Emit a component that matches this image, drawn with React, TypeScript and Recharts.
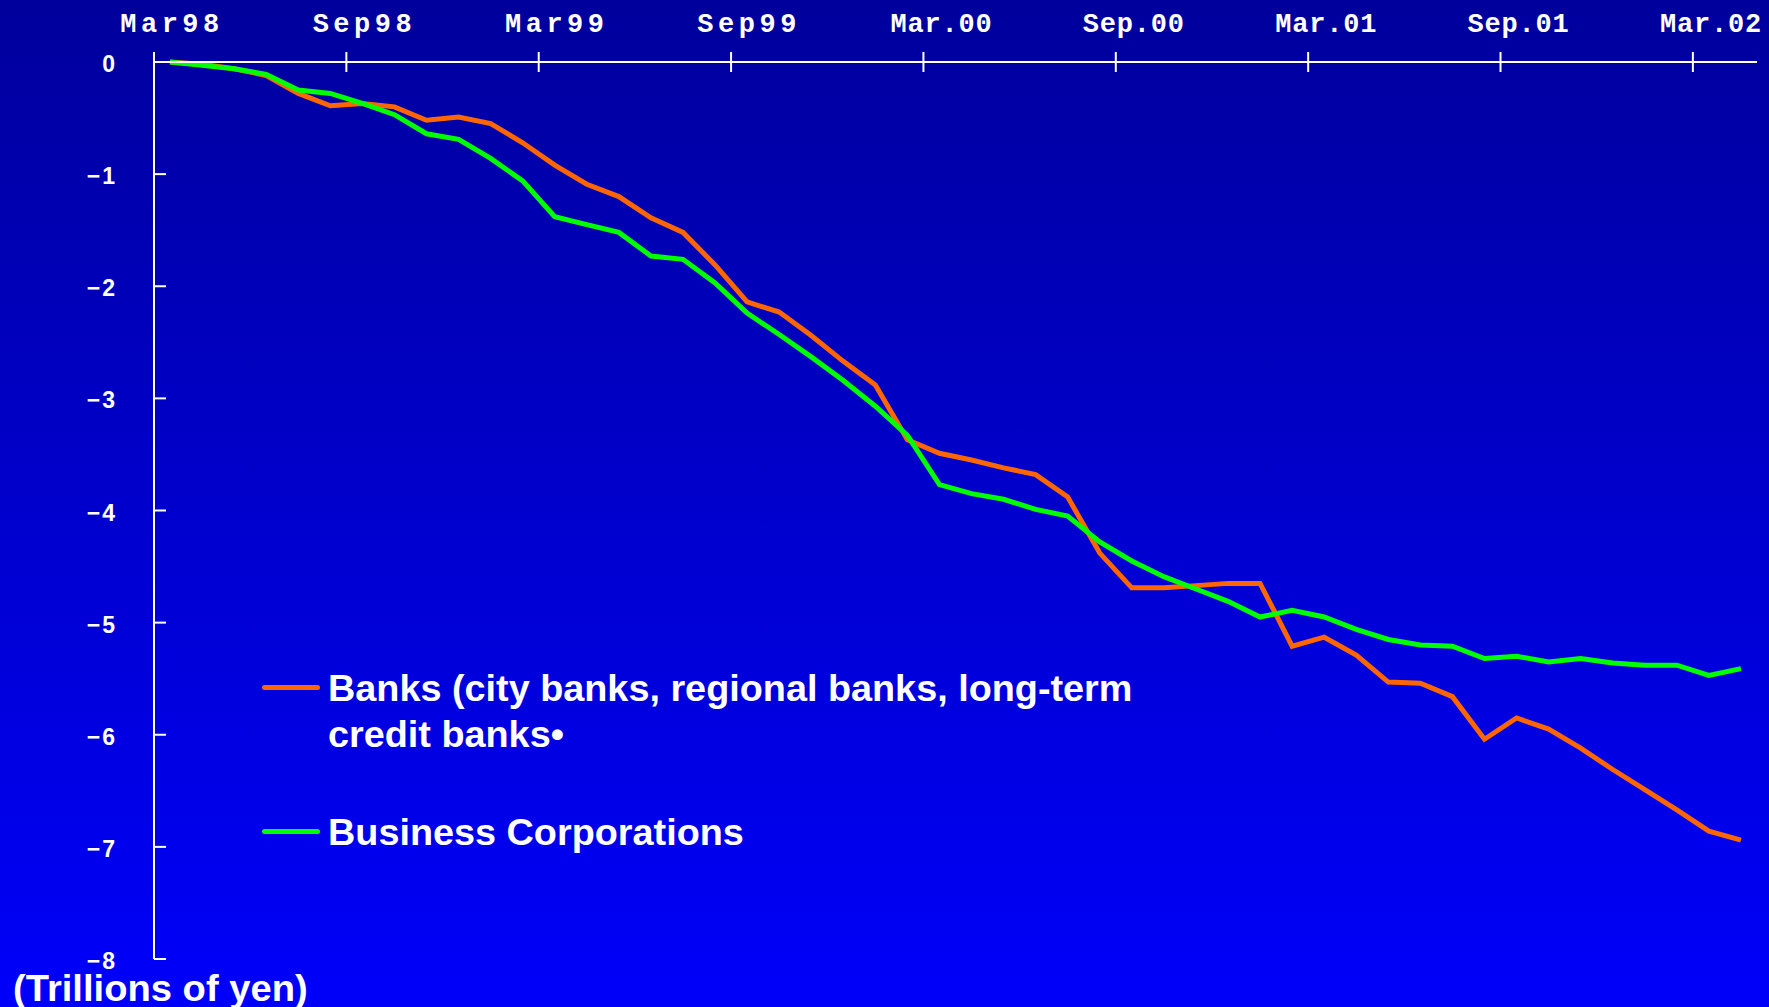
import { LineChart, Line, XAxis, YAxis } from 'recharts'

const W = 1769
const H = 1007
const PLOT_LEFT = 154
const PLOT_TOP = 62
const PLOT_RIGHT = 12
const PLOT_BOTTOM = 48

// monthly categories, Mar 1998 .. Apr 2002
const months = [
  'Mar98', 'Apr98', 'May98', 'Jun98', 'Jul98', 'Aug98', 'Sep98', 'Oct98', 'Nov98', 'Dec98',
  'Jan99', 'Feb99', 'Mar99', 'Apr99', 'May99', 'Jun99', 'Jul99', 'Aug99', 'Sep99', 'Oct99', 'Nov99', 'Dec99',
  'Jan.00', 'Feb.00', 'Mar.00', 'Apr.00', 'May.00', 'Jun.00', 'Jul.00', 'Aug.00', 'Sep.00', 'Oct.00', 'Nov.00', 'Dec.00',
  'Jan.01', 'Feb.01', 'Mar.01', 'Apr.01', 'May.01', 'Jun.01', 'Jul.01', 'Aug.01', 'Sep.01', 'Oct.01', 'Nov.01', 'Dec.01',
  'Jan.02', 'Feb.02', 'Mar.02', 'Apr.02',
]

const banks = [
  0, -0.02, -0.06, -0.12, -0.28, -0.39, -0.37, -0.4, -0.52, -0.49,
  -0.55, -0.72, -0.92, -1.09, -1.2, -1.39, -1.52, -1.81, -2.14, -2.23,
  -2.44, -2.67, -2.88, -3.37, -3.49, -3.55, -3.62, -3.68, -3.88, -4.38,
  -4.69, -4.69, -4.67, -4.65, -4.65, -5.21, -5.13, -5.29, -5.53, -5.54,
  -5.66, -6.04, -5.85, -5.95, -6.12, -6.31, -6.49, -6.67, -6.86, -6.94,
]

const corporations = [
  0, -0.03, -0.06, -0.11, -0.25, -0.28, -0.37, -0.47, -0.64, -0.69,
  -0.86, -1.06, -1.38, -1.45, -1.52, -1.73, -1.76, -1.97, -2.24, -2.43,
  -2.63, -2.84, -3.07, -3.33, -3.77, -3.85, -3.9, -3.99, -4.05, -4.28,
  -4.45, -4.59, -4.7, -4.81, -4.95, -4.89, -4.95, -5.06, -5.15, -5.2,
  -5.21, -5.32, -5.3, -5.35, -5.32, -5.36, -5.38, -5.38, -5.47, -5.41,
]

const yTicks = [0, -1, -2, -3, -4, -5, -6, -7, -8]

const series = [
  { key: 'banks', color: '#ff6600', lines: ['Banks (city banks, regional banks, long-term', 'credit banks\u2022'] },
  { key: 'corporations', color: '#00ff00', lines: ['Business Corporations'] },
]

const data = months.map((month, i) => ({
  month,
  banks: banks[i],
  corporations: corporations[i],
}))

const BAND = (W - PLOT_LEFT - PLOT_RIGHT) / months.length

function MonthTick({ x, payload }: any) {
  // label sits on the category, tick mark on the boundary before it
  const edge = x - BAND / 2
  const label = String(payload.value)
  // the dotted labels are squeezed to the same width as the others
  const spacing = label.includes('.') ? 0.8 : 4.5
  return (
    <g>
      <line x1={edge} x2={edge} y1={PLOT_TOP - 10} y2={PLOT_TOP + 10} stroke="#fff" strokeWidth={2} />
      <text
        x={x + 2}
        y={PLOT_TOP - 30}
        textAnchor="middle"
        fill="#fff"
        fontFamily="'Liberation Mono', 'Courier New', monospace"
        fontWeight="bold"
        fontSize={27}
        letterSpacing={spacing}
      >
        {label}
      </text>
    </g>
  )
}

function ValueTick({ y, payload }: any) {
  const v = payload.value
  const label = v < 0 ? `\u2212${Math.abs(v)}` : `${v}`
  return (
    <g>
      <line x1={PLOT_LEFT} x2={PLOT_LEFT + 12} y1={y} y2={y} stroke="#fff" strokeWidth={2} />
      <text
        x={PLOT_LEFT - 37}
        y={y + 10}
        textAnchor="end"
        fill="#fff"
        fontFamily="'Liberation Sans', Arial, sans-serif"
        fontWeight="bold"
        fontSize={23}
        letterSpacing={2}
      >
        {label}
      </text>
    </g>
  )
}

export default function App() {
  return (
    <div
      style={{
        position: 'absolute',
        left: 0,
        top: 0,
        width: W,
        height: H,
        overflow: 'hidden',
        background: 'linear-gradient(to bottom, #00009c 0%, #0000c8 45%, #0000fa 100%)',
      }}
    >
      <LineChart
        width={W}
        height={H}
        data={data}
        margin={{ top: 0, right: PLOT_RIGHT, bottom: PLOT_BOTTOM, left: 0 }}
      >
        <XAxis
          dataKey="month"
          orientation="top"
          height={PLOT_TOP}
          interval={5}
          padding={{ left: BAND / 2, right: BAND / 2 }}
          axisLine={{ stroke: '#fff', strokeWidth: 2 }}
          tickLine={false}
          tick={<MonthTick />}
        />
        <YAxis
          width={PLOT_LEFT}
          domain={[-8, 0]}
          ticks={yTicks}
          axisLine={{ stroke: '#fff', strokeWidth: 2 }}
          tickLine={false}
          tick={<ValueTick />}
        />
        {series.map((s) => (
          <Line
            key={s.key}
            dataKey={s.key}
            stroke={s.color}
            strokeWidth={5}
            dot={false}
            isAnimationActive={false}
          />
        ))}
      </LineChart>

      {/* legend */}
      <div
        style={{
          position: 'absolute',
          left: 262,
          top: 665,
          color: '#fff',
          fontFamily: "'Liberation Sans', Arial, sans-serif",
          fontWeight: 'bold',
          fontSize: 37.8,
          lineHeight: '46px',
          whiteSpace: 'nowrap',
        }}
      >
        {series.map((s, i) => (
          <div key={s.key} style={{ display: 'flex', alignItems: 'flex-start', marginTop: i === 0 ? 0 : 52 }}>
            <span
              style={{
                display: 'inline-block',
                width: 58,
                height: 5,
                borderRadius: 3,
                background: s.color,
                marginTop: 20,
                marginRight: 8,
              }}
            />
            <span>
              {s.lines.map((t, j) => (
                <div key={j}>{t}</div>
              ))}
            </span>
          </div>
        ))}
      </div>

      <div
        style={{
          position: 'absolute',
          left: 13,
          top: 977,
          color: '#fff',
          fontFamily: "'Liberation Sans', Arial, sans-serif",
          fontWeight: 'bold',
          fontSize: 36,
          lineHeight: 0.65,
          whiteSpace: 'nowrap',
          transform: 'scaleX(1.06)',
          transformOrigin: 'left center',
        }}
      >
        (Trillions of yen)
      </div>
    </div>
  )
}
